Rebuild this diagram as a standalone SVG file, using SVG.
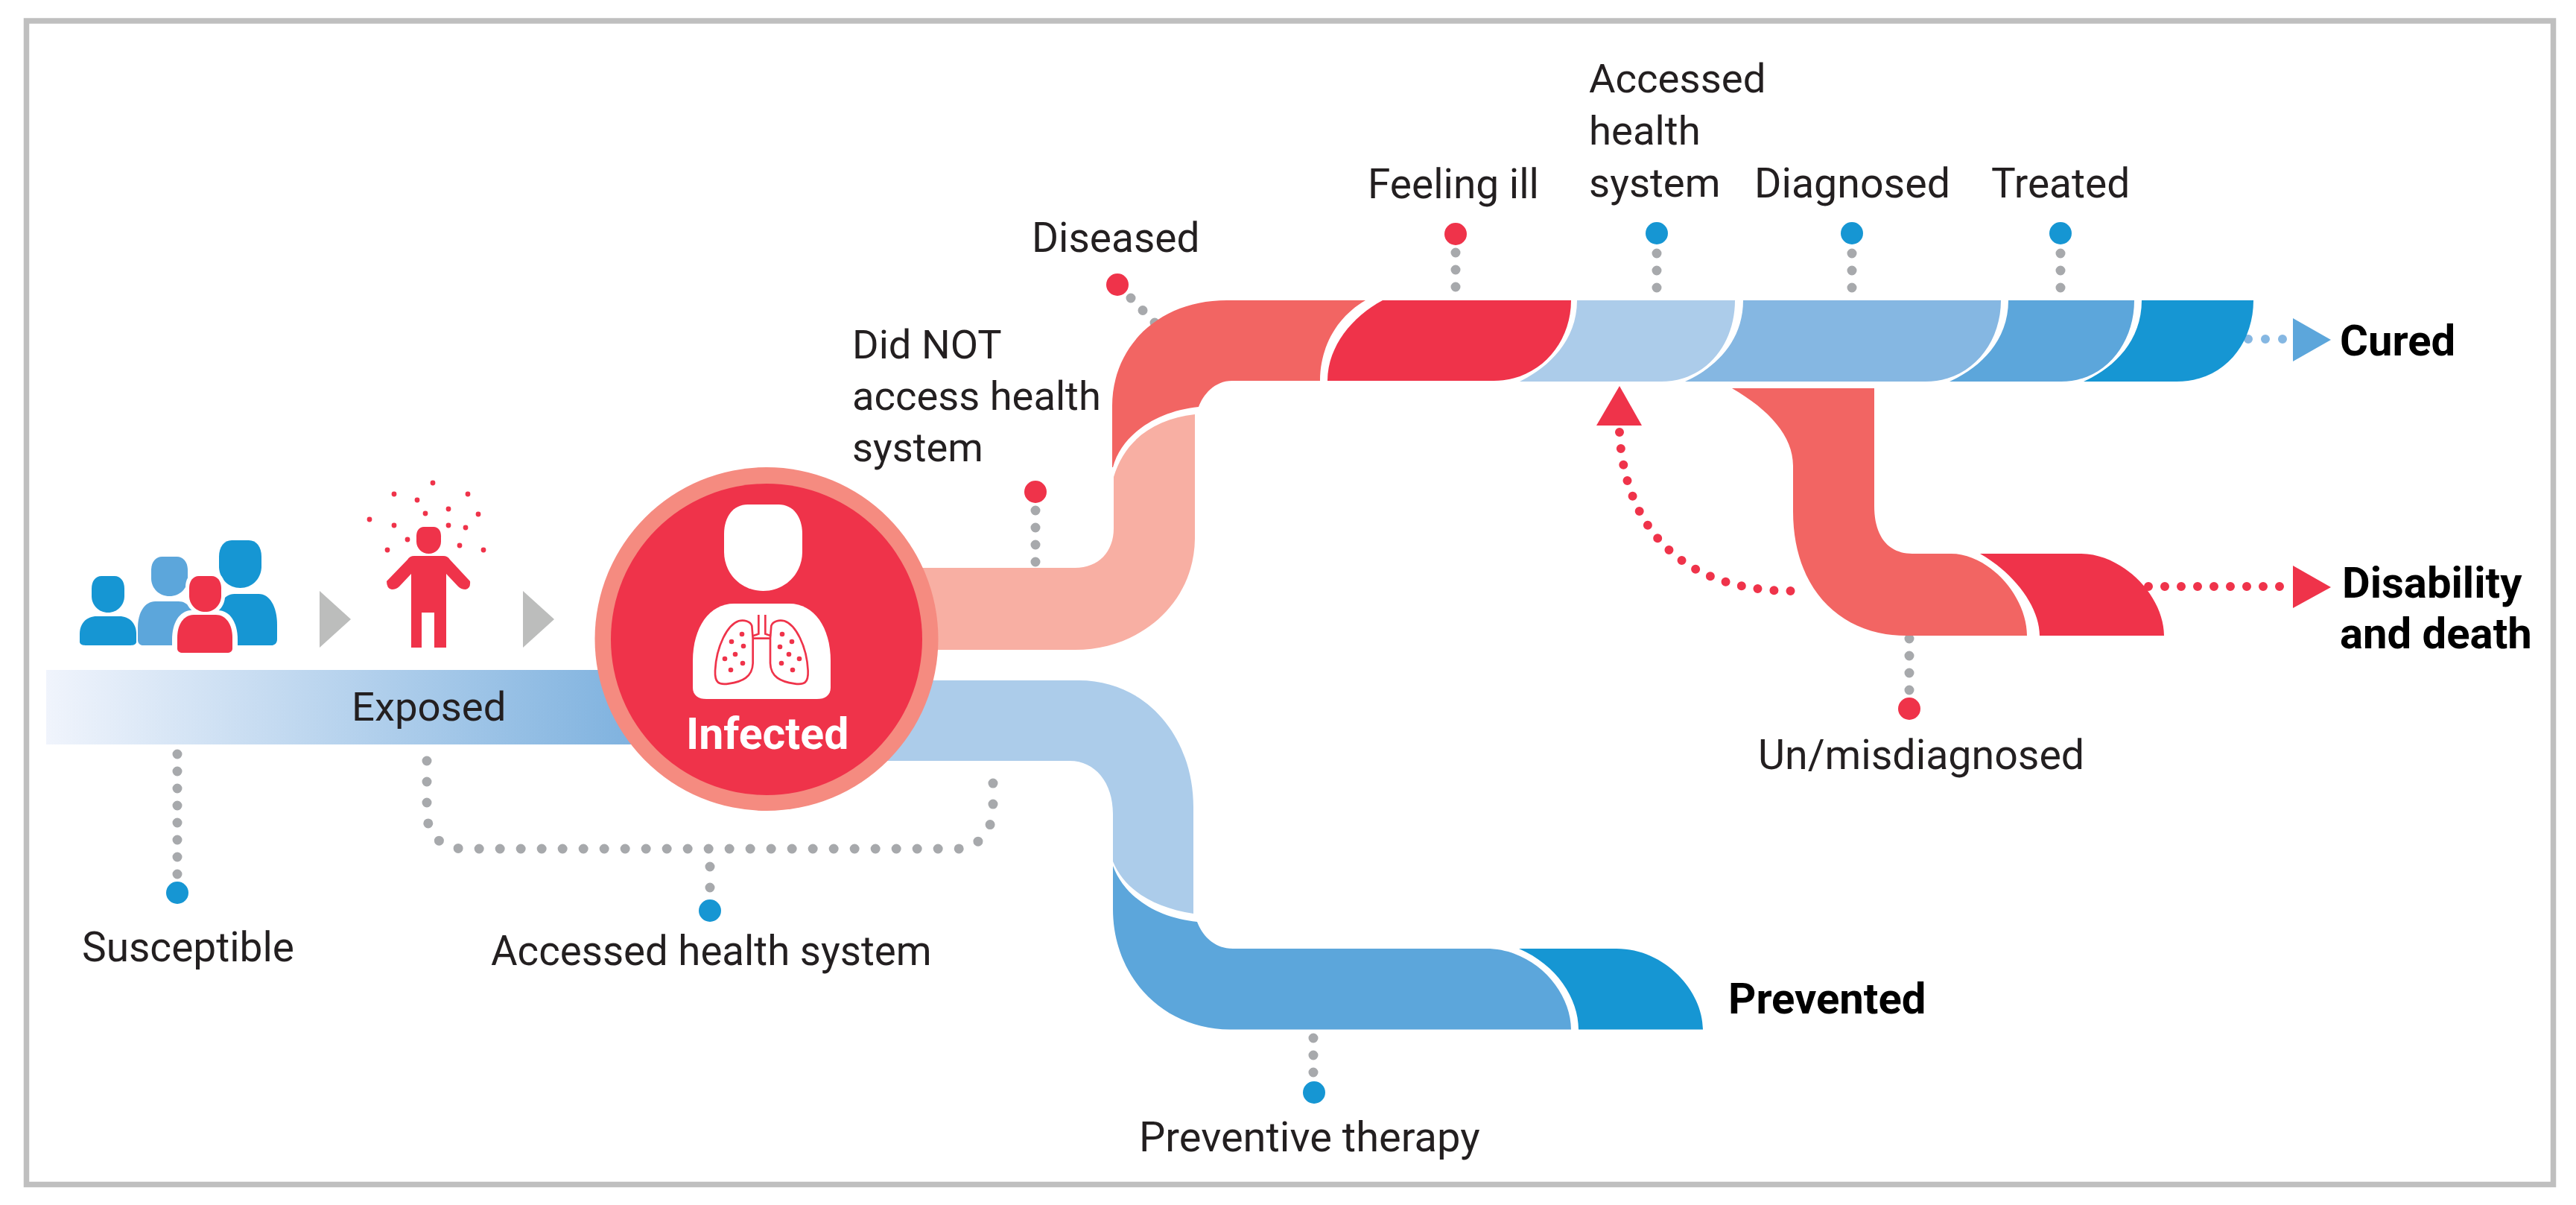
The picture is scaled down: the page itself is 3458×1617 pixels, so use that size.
<svg xmlns="http://www.w3.org/2000/svg" width="3458" height="1617" viewBox="0 0 3458 1617">
<style>
text{font-family:"Roboto","Liberation Sans",sans-serif;font-size:55px;fill:#231f20}
text.b{font-weight:700;font-size:58px;fill:#000}
.gd{fill:none;stroke:#a7a9ac;stroke-width:13;stroke-linecap:round}
.g23{stroke-dasharray:0 23}
.g28{stroke-dasharray:0 28}
.rd{fill:none;stroke:#ef334a;stroke-width:12;stroke-linecap:round;stroke-dasharray:0 22}
.bd{fill:none;stroke:#85b7e2;stroke-width:12;stroke-linecap:round;stroke-dasharray:0 23}
.red{fill:#ef334a}.blue{fill:#1696d3}.b2{fill:#5ca6db}.b3{fill:#85b7e2}.b4{fill:#acccea}.r2{fill:#f26563}.r3{fill:#f8afa3}
</style>
<defs>
<linearGradient id="exp" gradientUnits="userSpaceOnUse" x1="62" y1="0" x2="900" y2="0"><stop offset="0" stop-color="#f0f4fc"/><stop offset="1" stop-color="#78aedd"/></linearGradient>
<path id="head" d="M.3 0H.7C.88 0 1 .14 1 .34V.55C1 .8 .78 1 .5 1C.22 1 0 .8 0 .55V.34C0 .14 .12 0 .3 0Z"/>
<path id="body" d="M.3 0H.7C.88 0 1 .25 1 .6V.88C1 .96 .96 1 .9 1H.1C.04 1 0 .96 0 .88V.6C0 .25 .12 0 .3 0Z"/>
</defs>
<rect width="3458" height="1617" fill="#fff"/>
<rect x="35.500" y="28" width="3392" height="1561.500" fill="none" stroke="#bfbfbf" stroke-width="7.500"/>

<g id="exposed-band">
<rect x="62" y="899" width="900" height="100" fill="url(#exp)"/>
<text x="472" y="967" style="font-size:54.500px">Exposed</text>
</g>

<g id="connectors">
<path class="gd g23" d="M238 1012V1175"/>
<path class="gd g28" d="M573 1021V1090C573 1120 592 1139 625 1139H1285C1312 1139 1333 1115 1333 1085V1037"/>
<path class="gd g28" d="M953 1163V1193"/>
<path class="gd g23" d="M1390 685V756"/>
<path class="gd g23" d="M1518 400L1552 435"/>
<path class="gd g23" d="M1954 339V387"/>
<path class="gd g23" d="M2224 340V388"/>
<path class="gd g23" d="M2486 340V388"/>
<path class="gd g23" d="M2766 340V388"/>
<path class="gd g23" d="M2563 857V928"/>
<path class="gd g23" d="M1763 1393V1441"/>
<path class="bd" d="M3018 455H3067"/>
<path class="rd" d="M2884 787H3067"/>
<path class="rd" d="M2174 580C2180 700 2250 793 2405 793"/>
<polygon class="b2" points="3078,427 3129,456 3078,485"/>
<polygon class="red" points="3078,759 3129,788 3078,816"/>
<polygon class="red" points="2143,571 2174,518 2204,571"/>
<polygon points="429,793 471,831 429,869" fill="#bcbdbc"/>
<polygon points="702,793 744,831 702,869" fill="#bcbdbc"/>
</g>

<g id="susceptible">
<use href="#head" class="blue" transform="translate(123 773) scale(44 49)"/>
<use href="#body" class="blue" transform="translate(107 827) scale(76 39)"/>
<use href="#head" class="b2" transform="translate(203 747) scale(49 53)"/>
<use href="#body" class="b2" transform="translate(185 807) scale(78 59)"/>
<use href="#head" class="blue" transform="translate(294 725) scale(57 64)"/>
<use href="#body" class="blue" transform="translate(290 797) scale(82 69)"/>
<use href="#head" fill="#fff" transform="translate(249 768) scale(53 58)"/>
<use href="#body" fill="#fff" transform="translate(231 819) scale(88 65)"/>
<use href="#head" class="red" transform="translate(254 773) scale(43 48)"/>
<use href="#body" class="red" transform="translate(238 825) scale(74 51)"/>
<circle class="blue" cx="238" cy="1198" r="15"/>
<text x="110" y="1290">Susceptible</text>
</g>

<g id="exposed">
<use href="#head" class="red" transform="translate(559 707) scale(33 36)"/>
<path class="red" d="M556 746H595Q601 746 604 751L631 780Q632 790 625 791Q619 791 615 787L599 770V869H583V822H566V869H552V770L536 787Q532 791 526 791Q519 790 519 780L547 751Q550 746 556 746Z"/>
<g class="red">
<circle cx="581" cy="648" r="3.400"/><circle cx="529" cy="663" r="3.400"/><circle cx="628" cy="663" r="3.400"/><circle cx="560" cy="671" r="3.400"/><circle cx="602" cy="683" r="3.400"/><circle cx="571" cy="689" r="3.400"/><circle cx="642" cy="690" r="3.400"/><circle cx="496" cy="697" r="3.400"/><circle cx="529" cy="705" r="3.400"/><circle cx="602" cy="705" r="3.400"/><circle cx="625" cy="708" r="3.400"/><circle cx="547" cy="724" r="3.400"/><circle cx="617" cy="732" r="3.400"/><circle cx="520" cy="738" r="3.400"/><circle cx="649" cy="738" r="3.400"/>
</g>
</g>

<g id="did-not-access">
<path class="r3" d="M1604 556V723C1603 810 1530 872 1443 872H1100V762H1443C1475 762 1495 740 1495 709V640C1510 590 1550 562 1604 556Z"/>
<circle class="red" cx="1390" cy="660" r="15"/>
<text x="1144" y="481" style="font-size:54.300px">Did NOT</text>
<text x="1144" y="550" style="font-size:54.300px">access health</text>
<text x="1144" y="619" style="font-size:54.300px">system</text>
</g>

<g id="diseased">
<path class="r2" d="M1493 627V545C1493 465 1555 403 1647 403H1833C1795 425 1772 465 1772 511H1654C1630 511 1615 530 1609 546C1550 552 1505 585 1494 627Z"/>
<circle class="red" cx="1500" cy="382" r="15"/>
<text x="1385" y="338">Diseased</text>
</g>

<g id="feeling-ill">
<path class="red" d="M1856 403H2109C2109 462 2065 511 2005 511H1782C1782 465 1815 425 1856 403Z"/>
<circle class="red" cx="1954" cy="314" r="15"/>
<text x="1836" y="266">Feeling ill</text>
</g>

<g id="accessed-top">
<path class="b4" d="M2117 403H2329C2329 462 2290 512 2230 512H2040C2075 495 2117 460 2117 403Z"/>
<circle class="blue" cx="2224" cy="313" r="15"/>
<text x="2133" y="124" style="font-size:54.500px">Accessed</text>
<text x="2133" y="194" style="font-size:54.500px">health</text>
<text x="2133" y="264" style="font-size:54.500px">system</text>
</g>

<g id="diagnosed">
<path class="b3" d="M2340 403H2686C2686 462 2645 512 2585 512H2262C2300 495 2340 460 2340 403Z"/>
<circle class="blue" cx="2486" cy="313" r="15"/>
<text x="2355" y="265" style="font-size:55.500px">Diagnosed</text>
</g>

<g id="treated">
<path class="b2" d="M2696 403H2865C2865 462 2825 512 2767 512H2617C2655 495 2696 460 2696 403Z"/>
<circle class="blue" cx="2766" cy="313" r="15"/>
<text x="2673" y="265">Treated</text>
</g>

<g id="cured">
<path class="blue" d="M2875 403H3025C3025 462 2985 512 2922 512H2797C2835 495 2875 460 2875 403Z"/>
<text class="b" x="3141" y="477">Cured</text>
</g>

<g id="misdiagnosed">
<path class="r2" d="M2325 521H2516V679C2516 720 2535 743 2567 743H2619C2670 743 2721 800 2721 853H2559C2470 853 2407 790 2407 686V625C2407 585 2375 550 2325 521Z"/>
<circle class="red" cx="2563" cy="951" r="15"/>
<text x="2360" y="1032" style="font-size:55.500px">Un/misdiagnosed</text>
</g>

<g id="disability">
<path class="red" d="M2658 743H2793C2850 743 2905 800 2905 853H2738C2738 815 2705 770 2658 743Z"/>
<text class="b" x="3144" y="802">Disability</text>
<text class="b" x="3141" y="870">and death</text>
</g>

<g id="accessed-lower">
<path class="b4" d="M1100 913H1448C1540 913 1602 990 1602 1083V1226C1550 1218 1510 1195 1494 1156V1092C1494 1050 1470 1021 1436 1021H1100Z"/>
<circle class="blue" cx="953" cy="1222" r="15"/>
<text x="659" y="1295" style="font-size:54.600px">Accessed health system</text>
</g>

<g id="preventive">
<path class="b2" d="M1494 1162C1510 1205 1555 1232 1607 1237C1615 1258 1632 1273 1655 1273H1995C2060 1273 2109 1330 2109 1381.500H1651C1560 1381 1494 1310 1494 1220Z"/>
<circle class="blue" cx="1764" cy="1466" r="15"/>
<text x="1529" y="1545" style="font-size:56px">Preventive therapy</text>
</g>

<g id="prevented">
<path class="blue" d="M2039 1273H2170C2235 1273 2286 1330 2286 1381.500H2119C2119 1340 2090 1295 2039 1273Z"/>
<text class="b" x="2320" y="1360">Prevented</text>
</g>

<g id="infected">
<circle cx="1029" cy="857.500" r="230.500" fill="#f58b80"/>
<circle class="red" cx="1029" cy="858" r="209"/>
<use href="#head" fill="#fff" transform="translate(972 677) scale(105 116)"/>
<use href="#body" fill="#fff" transform="translate(930 810) scale(185 128)"/>
<g transform="translate(920 660) scale(.3333)" fill="none" stroke="#ef334a" stroke-width="8">
<path d="M268 540C262 520 235 515 215 520C170 535 125 620 120 720C118 770 135 778 175 772C230 765 270 745 272 690V590Z"/>
<path d="M346 540C352 520 379 515 399 520C444 535 489 620 494 720C496 770 479 778 439 772C384 765 344 745 342 690V590Z"/>
<path d="M295 495V572L272 580M322 495V572L345 580M272 590H345"/>
</g>
<g class="red">
<circle cx="996" cy="851" r="3.300"/><circle cx="982" cy="861" r="3.300"/><circle cx="998" cy="867" r="3.300"/><circle cx="987" cy="878" r="3.300"/><circle cx="973" cy="884" r="3.300"/><circle cx="997" cy="890" r="3.300"/><circle cx="981" cy="899" r="3.300"/>
<circle cx="1050" cy="851" r="3.300"/><circle cx="1063" cy="861" r="3.300"/><circle cx="1047" cy="868" r="3.300"/><circle cx="1059" cy="878" r="3.300"/><circle cx="1073" cy="884" r="3.300"/><circle cx="1049" cy="890" r="3.300"/><circle cx="1064" cy="899" r="3.300"/>
</g>
<text class="b" x="921" y="1005" style="fill:#fff;font-size:59px">Infected</text>
</g>
</svg>
